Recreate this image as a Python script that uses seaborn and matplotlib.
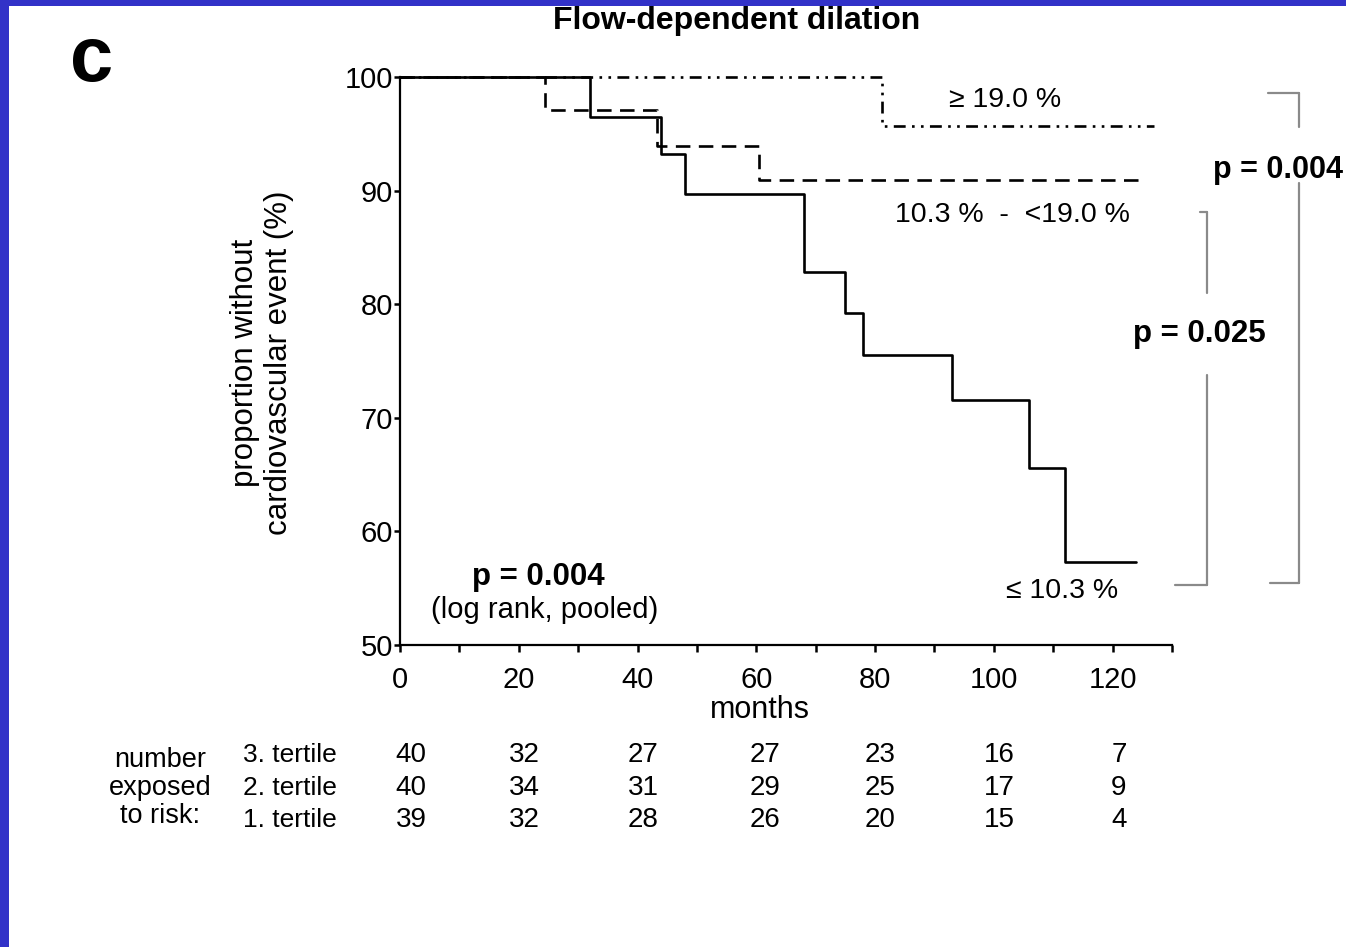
import matplotlib
matplotlib.use("Agg")
import matplotlib.pyplot as plt
from matplotlib.patches import Rectangle
import pandas as pd
import seaborn as sns

# Kaplan-Meier step data (event times in months, survival in %)
t_low = [0, 32, 44, 48, 68, 75, 78, 93, 106, 112, 124]
s_low = [100, 96.5, 93.2, 89.7, 82.8, 79.2, 75.5, 71.6, 65.6, 57.3, 57.3]

t_mid = [0, 24.4, 43.2, 60.5, 125]
s_mid = [100, 97.1, 93.9, 90.9, 90.9]

t_high = [0, 81.2, 127]
s_high = [100, 95.7, 95.7]

# Numbers at risk
risk_months = [0, 20, 40, 60, 80, 100, 120]
risk_3 = [40, 32, 27, 27, 23, 16, 7]
risk_2 = [40, 34, 31, 29, 25, 17, 9]
risk_1 = [39, 32, 28, 26, 20, 15, 4]
risk_rows = ["3. tertile", "2. tertile", "1. tertile"]

sns.set_style("white")
plt.rcParams["font.family"] = ["Liberation Sans", "DejaVu Sans"]
plt.rcParams["text.color"] = "black"
plt.rcParams["axes.labelcolor"] = "black"

W, H = 1346, 947
fig = plt.figure(figsize=(W / 100, H / 100), dpi=100)
fig.patch.set_facecolor("white")

def fx(px):
    return px / W

def fy(py):
    return 1 - py / H

ax = fig.add_axes([fx(400), fy(645), fx(1172) - fx(400), fy(77) - fy(645)])

curves = [
    (t_low, s_low, "-"),
    (t_mid, s_mid, (0, (5.5, 3.2))),
    (t_high, s_high, (0, (4.5, 2.4, 1.0, 2.4, 1.0, 2.4))),
]
for t, s, ls in curves:
    df = pd.DataFrame({"months": t, "surv": s})
    sns.lineplot(data=df, x="months", y="surv", ax=ax, estimator=None,
                 sort=False, drawstyle="steps-post", color="black",
                 linewidth=1.9, linestyle=ls, clip_on=False)

ax.set_xlim(0, 130)
ax.set_ylim(50, 100)
ax.set_xticks(range(0, 121, 20))
ax.set_xticks(range(0, 131, 10), minor=True)
ax.set_yticks(range(50, 101, 10))
ax.tick_params(axis="x", which="both", bottom=True, direction="out", length=5,
               width=1.8, labelsize=21, pad=10, colors="black")
ax.tick_params(axis="y", left=True, direction="out", length=4, width=1.8,
               labelsize=21, pad=1, colors="black")
for side in ["top", "right"]:
    ax.spines[side].set_visible(False)
for side in ["left", "bottom"]:
    ax.spines[side].set_linewidth(1.6)
    ax.spines[side].set_color("black")
ax.set_xlabel("")
ax.set_ylabel("")
ax.set_facecolor("white")

fig.text(fx(760), fy(710), "months", ha="center", va="center", fontsize=22)

# y label, two lines
fig.text(fx(262), fy(363), "proportion without\ncardiovascular event (%)",
         rotation=90, ha="center", va="center", fontsize=22.5, linespacing=1.2)

# Title and panel letter
fig.text(fx(737), fy(21), "Flow-dependent dilation", ha="center", va="center",
         fontsize=23, fontweight="bold")
fig.text(fx(92), fy(60), "c", ha="center", va="center", fontsize=56,
         fontweight="bold")

# Curve labels
fig.text(fx(1005), fy(100), "≥ 19.0 %", ha="center", va="center", fontsize=20.5)
fig.text(fx(1012), fy(215), "10.3 %  -  <19.0 %", ha="center", va="center",
         fontsize=20.5)
fig.text(fx(1062), fy(591), "≤ 10.3 %", ha="center", va="center", fontsize=20.5)
fig.text(fx(538), fy(577), "p = 0.004", ha="center", va="center", fontsize=22.5,
         fontweight="bold")
fig.text(fx(545), fy(610), "(log rank, pooled)", ha="center", va="center",
         fontsize=21)

# Pairwise comparison brackets
gray = "#8a8a8a"
def vline(x, y0, y1):
    fig.add_artist(plt.Line2D([fx(x), fx(x)], [fy(y0), fy(y1)], color=gray, lw=1.6))

def hline(x0, x1, y):
    fig.add_artist(plt.Line2D([fx(x0), fx(x1)], [fy(y), fy(y)], color=gray, lw=1.6))

hline(1200, 1207, 212)
vline(1207, 212, 293)
vline(1207, 375, 585)
hline(1175, 1207, 585)
fig.text(fx(1199), fy(334), "p = 0.025", ha="center", va="center", fontsize=22.5,
         fontweight="bold")

hline(1268, 1299, 93)
vline(1299, 93, 127)
vline(1299, 183, 583)
hline(1270, 1299, 583)
fig.text(fx(1343), fy(170), "p = 0.004", ha="right", va="center", fontsize=22,
         fontweight="bold")

# Numbers-at-risk table
row_y = [755, 788, 820]
fig.text(fx(160), fy(788), "number\nexposed\nto risk:", ha="center", va="center",
         fontsize=19.5, linespacing=1.1)
for name, yy in zip(risk_rows, row_y):
    fig.text(fx(243), fy(yy), name, ha="left", va="center", fontsize=19)
col_px = [411, 524, 643, 765, 880, 999, 1119]
for vals, yy in zip([risk_3, risk_2, risk_1], row_y):
    for m, v, xp in zip(risk_months, vals, col_px):
        fig.text(fx(xp), fy(yy), str(v), ha="center", va="center", fontsize=20)

# Slide frame
fig.add_artist(Rectangle((0, fy(6)), 1, 1 - fy(6), transform=fig.transFigure,
                         color="#3232c8", lw=0))
fig.add_artist(Rectangle((0, 0), fx(9), 1, transform=fig.transFigure,
                         color="#3232c8", lw=0))

fig.savefig("out.png", dpi=100, facecolor="white")
